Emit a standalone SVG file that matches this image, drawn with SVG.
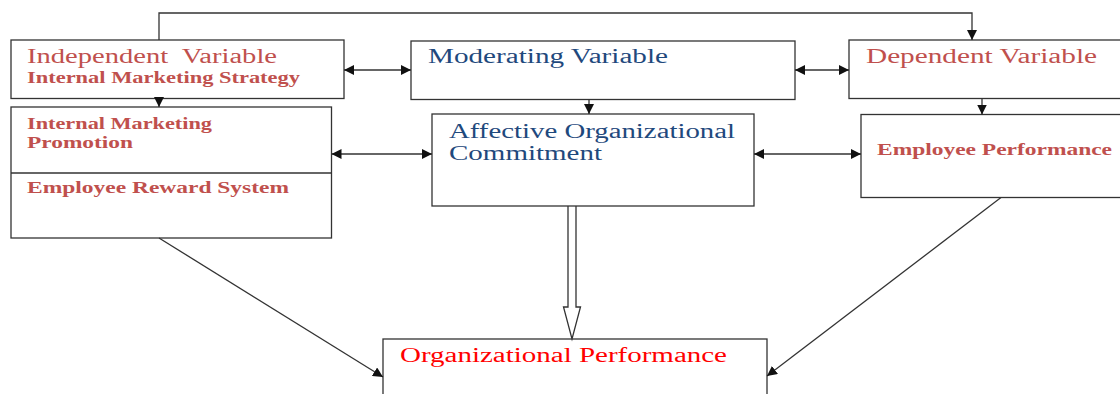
<svg xmlns="http://www.w3.org/2000/svg" width="1120" height="394" viewBox="0 0 1120 394">
<defs>
<marker id="ah" viewBox="0 0 10 10" refX="10" refY="5" markerWidth="10" markerHeight="10" markerUnits="userSpaceOnUse" orient="auto-start-reverse">
<path d="M0,0 L10,5 L0,10 z" fill="#111"/>
</marker>
<style>
.box{fill:#fff;stroke:#333;stroke-width:1.3}
.ln{fill:none;stroke:#333;stroke-width:1.3}
.t{font-family:"Liberation Serif","Times New Roman",serif}
.r{fill:#c0504d}
.b{fill:#1f497d}
.big{font-size:20px}
.bold{font-size:17px;font-weight:bold}
</style>
</defs>
<rect width="1120" height="394" fill="#fff"/>
<g id="independent">
<rect class="box" x="11" y="40" width="333" height="58.5"/>
<text class="t r big" x="27" y="63" textLength="250" lengthAdjust="spacingAndGlyphs" xml:space="preserve">Independent  Variable</text>
<text class="t r bold" x="27" y="83" textLength="273" lengthAdjust="spacingAndGlyphs">Internal Marketing Strategy</text>
</g>
<g id="im-components">
<rect class="box" x="11" y="107" width="320.5" height="131"/>
<line class="ln" x1="11" y1="173" x2="331.5" y2="173"/>
<text class="t r bold" x="27" y="129" textLength="185" lengthAdjust="spacingAndGlyphs">Internal Marketing</text>
<text class="t r bold" x="27" y="148" textLength="106" lengthAdjust="spacingAndGlyphs">Promotion</text>
<text class="t r bold" x="27" y="193" textLength="262" lengthAdjust="spacingAndGlyphs">Employee Reward System</text>
</g>
<g id="moderating">
<rect class="box" x="411" y="41" width="384" height="58.5"/>
<text class="t b big" x="428" y="63" textLength="240" lengthAdjust="spacingAndGlyphs">Moderating Variable</text>
</g>
<g id="affective">
<rect class="box" x="432" y="114" width="322" height="92"/>
<text class="t b big" x="449" y="138" textLength="286" lengthAdjust="spacingAndGlyphs">Affective Organizational</text>
<text class="t b big" x="449" y="160" textLength="153" lengthAdjust="spacingAndGlyphs">Commitment</text>
</g>
<g id="dependent">
<rect class="box" x="849" y="40" width="280" height="58.5"/>
<text class="t r big" x="866" y="63" textLength="231" lengthAdjust="spacingAndGlyphs">Dependent Variable</text>
</g>
<g id="employee-performance">
<rect class="box" x="861" y="114.5" width="270" height="83"/>
<text class="t r bold" x="877" y="155" textLength="235" lengthAdjust="spacingAndGlyphs">Employee Performance</text>
</g>
<g id="organizational-performance">
<rect class="box" x="383" y="339" width="384" height="70"/>
<text class="t big" fill="#ff0000" x="400" y="362" textLength="327" lengthAdjust="spacingAndGlyphs">Organizational Performance</text>
</g>
<g id="connectors">
<polyline class="ln" points="159,40 159,13 972,13 972,40" marker-end="url(#ah)"/>
<line class="ln" x1="159" y1="98.5" x2="159" y2="107" marker-end="url(#ah)"/>
<line class="ln" x1="589" y1="99.5" x2="589" y2="114" marker-end="url(#ah)"/>
<line class="ln" x1="982" y1="98.5" x2="982" y2="114.5" marker-end="url(#ah)"/>
<line class="ln" x1="344" y1="70" x2="411" y2="70" marker-start="url(#ah)" marker-end="url(#ah)"/>
<line class="ln" x1="795" y1="70" x2="849" y2="70" marker-start="url(#ah)" marker-end="url(#ah)"/>
<line class="ln" x1="331.5" y1="154" x2="432" y2="154" marker-start="url(#ah)" marker-end="url(#ah)"/>
<line class="ln" x1="754" y1="154" x2="861" y2="154" marker-start="url(#ah)" marker-end="url(#ah)"/>
<line class="ln" x1="159" y1="238" x2="383" y2="377" marker-end="url(#ah)"/>
<line class="ln" x1="1001" y1="197.5" x2="767" y2="376" marker-end="url(#ah)"/>
<path class="ln" d="M568,206 L568,307 L563.5,307 L572,339 L580.5,307 L576,307 L576,206" stroke-linejoin="miter"/>
</g>
</svg>
